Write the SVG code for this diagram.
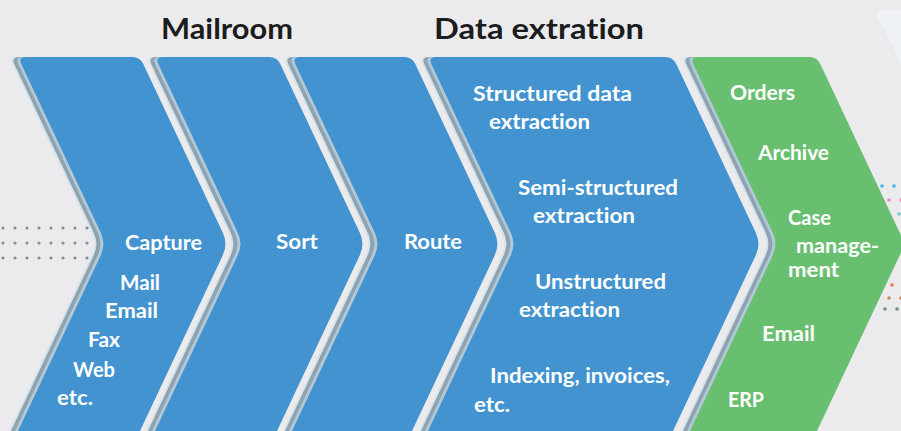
<svg xmlns="http://www.w3.org/2000/svg" xmlns:xlink="http://www.w3.org/1999/xlink" width="901" height="431" viewBox="0 0 901 431">
<defs>
<style>
.bg{fill:#ebebee}
.blue{fill:#4293cf}
.green{fill:#68bf70}
.s1{fill:#d5e3eb}
.s2{fill:#8fa2b0}
.s3{fill:#b3c9d7}
.t{font-family:Lato,"Liberation Sans",sans-serif;font-weight:700;font-size:21px;fill:#ffffff;font-variant-ligatures:none;font-feature-settings:"liga" 0,"clig" 0}
.h{font-family:Lato,"Liberation Sans",sans-serif;font-weight:700;font-size:29px;fill:#1c1c1c;font-variant-ligatures:none;font-feature-settings:"liga" 0,"clig" 0}
.dot{fill:#8c8c90}
</style>
<path id="c122" d="M3.4,64.2 Q0,57 8,57 L114,57 Q122,57 125.4,64.2 L204.9,233.1 Q210,244 204.9,254.9 L122,431 L0,431 L82.9,254.9 Q88,244 82.9,233.1 Z"/>
<path id="c120" d="M3.4,64.2 Q0,57 8,57 L112,57 Q120,57 123.4,64.2 L202.9,233.1 Q208,244 202.9,254.9 L120,431 L0,431 L82.9,254.9 Q88,244 82.9,233.1 Z"/>
<path id="c245" d="M3.4,64.2 Q0,57 8,57 L237,57 Q245,57 248.4,64.2 L327.9,233.1 Q333,244 327.9,254.9 L245,431 L0,431 L82.9,254.9 Q88,244 82.9,233.1 Z"/>
<path id="c127" d="M3.4,64.2 Q0,57 8,57 L119,57 Q127,57 130.4,64.2 L209.9,233.1 Q215,244 209.9,254.9 L127,431 L0,431 L82.9,254.9 Q88,244 82.9,233.1 Z"/>
</defs>
<rect class="bg" x="0" y="0" width="901" height="431"/>
<path d="M881,10 L901,10 L901,63 L877,16 Q876,10 881,10 Z" fill="#eff2f4"/>
<g id="dots-left">
<circle class="dot" cx="3" cy="228" r="1.6"/><circle class="dot" cx="15" cy="228" r="1.6"/><circle class="dot" cx="27" cy="228" r="1.6"/><circle class="dot" cx="39" cy="228" r="1.6"/><circle class="dot" cx="51" cy="228" r="1.6"/><circle class="dot" cx="63" cy="228" r="1.6"/><circle class="dot" cx="75" cy="228" r="1.6"/><circle class="dot" cx="87" cy="228" r="1.6"/><circle class="dot" cx="99" cy="228" r="1.6"/>
<circle class="dot" cx="3" cy="243" r="1.6"/><circle class="dot" cx="15" cy="243" r="1.6"/><circle class="dot" cx="27" cy="243" r="1.6"/><circle class="dot" cx="39" cy="243" r="1.6"/><circle class="dot" cx="51" cy="243" r="1.6"/><circle class="dot" cx="63" cy="243" r="1.6"/><circle class="dot" cx="75" cy="243" r="1.6"/><circle class="dot" cx="87" cy="243" r="1.6"/><circle class="dot" cx="99" cy="243" r="1.6"/>
<circle class="dot" cx="3" cy="258" r="1.6"/><circle class="dot" cx="15" cy="258" r="1.6"/><circle class="dot" cx="27" cy="258" r="1.6"/><circle class="dot" cx="39" cy="258" r="1.6"/><circle class="dot" cx="51" cy="258" r="1.6"/><circle class="dot" cx="63" cy="258" r="1.6"/><circle class="dot" cx="75" cy="258" r="1.6"/><circle class="dot" cx="87" cy="258" r="1.6"/><circle class="dot" cx="99" cy="258" r="1.6"/>
</g>
<g id="dots-right">
<circle cx="870" cy="186" r="1.8" fill="#3db8ea"/><circle cx="882" cy="186" r="1.8" fill="#3db8ea"/><circle cx="894" cy="186" r="1.8" fill="#3db8ea"/>
<circle cx="877" cy="200" r="1.8" fill="#ee88b8"/><circle cx="889" cy="200" r="1.8" fill="#ee88b8"/><circle cx="901" cy="200" r="1.8" fill="#ee88b8"/>
<circle cx="887" cy="214" r="1.8" fill="#7cc8d2"/><circle cx="899" cy="214" r="1.8" fill="#7cc8d2"/>
<circle cx="880" cy="285" r="1.8" fill="#ee7755"/><circle cx="892" cy="285" r="1.8" fill="#ee7755"/>
<circle cx="877" cy="298" r="1.8" fill="#d08850"/><circle cx="889" cy="298" r="1.8" fill="#d08850"/><circle cx="901" cy="298" r="1.8" fill="#d08850"/>
<circle cx="885" cy="309" r="1.8" fill="#6f8f7f"/><circle cx="897" cy="309" r="1.8" fill="#6f8f7f"/>
</g>
<g id="headings">
<text class="h" x="161" y="39" textLength="132" lengthAdjust="spacingAndGlyphs">Mailroom</text>
<text class="h" x="434" y="39" textLength="210" lengthAdjust="spacingAndGlyphs">Data extration</text>
</g>
<g id="connectors"></g>
<g id="capture">
<use xlink:href="#c122" class="s1" transform="translate(9,0)"/>
<use xlink:href="#c122" class="s2" transform="translate(11,0)"/>
<use xlink:href="#c122" class="s3" transform="translate(15,0)"/>
<use xlink:href="#c122" class="blue" transform="translate(18,0)"/>
<text class="t" x="125" y="250" textLength="77" lengthAdjust="spacingAndGlyphs">Capture</text>
<text class="t" x="120" y="290" textLength="40" lengthAdjust="spacingAndGlyphs">Mail</text>
<text class="t" x="105" y="318" textLength="53" lengthAdjust="spacingAndGlyphs">Email</text>
<text class="t" x="88" y="347" textLength="32" lengthAdjust="spacingAndGlyphs">Fax</text>
<text class="t" x="73" y="377" textLength="42" lengthAdjust="spacingAndGlyphs">Web</text>
<text class="t" x="57" y="405" textLength="36" lengthAdjust="spacingAndGlyphs">etc.</text>
</g>
<g id="sort">
<use xlink:href="#c122" class="s1" transform="translate(146,0)"/>
<use xlink:href="#c122" class="s2" transform="translate(148,0)"/>
<use xlink:href="#c122" class="s3" transform="translate(152,0)"/>
<use xlink:href="#c122" class="blue" transform="translate(155,0)"/>
<text class="t" x="276" y="249" textLength="42" lengthAdjust="spacingAndGlyphs">Sort</text>
</g>
<g id="route">
<use xlink:href="#c120" class="s1" transform="translate(283,0)"/>
<use xlink:href="#c120" class="s2" transform="translate(285,0)"/>
<use xlink:href="#c120" class="s3" transform="translate(289,0)"/>
<use xlink:href="#c120" class="blue" transform="translate(292,0)"/>
<text class="t" x="404" y="249" textLength="58" lengthAdjust="spacingAndGlyphs">Route</text>
</g>
<g id="extraction">
<use xlink:href="#c245" class="s1" transform="translate(419,0)"/>
<use xlink:href="#c245" class="s2" transform="translate(421,0)"/>
<use xlink:href="#c245" class="s3" transform="translate(425,0)"/>
<use xlink:href="#c245" class="blue" transform="translate(428,0)"/>
<text class="t" x="473" y="101" textLength="159" lengthAdjust="spacingAndGlyphs">Structured data</text>
<text class="t" x="489" y="129" textLength="101" lengthAdjust="spacingAndGlyphs">extraction</text>
<text class="t" x="518" y="195" textLength="160" lengthAdjust="spacingAndGlyphs">Semi-structured</text>
<text class="t" x="533" y="223" textLength="102" lengthAdjust="spacingAndGlyphs">extraction</text>
<text class="t" x="535" y="289" textLength="131" lengthAdjust="spacingAndGlyphs">Unstructured</text>
<text class="t" x="519" y="317" textLength="101" lengthAdjust="spacingAndGlyphs">extraction</text>
<text class="t" x="490" y="383" textLength="180" lengthAdjust="spacingAndGlyphs">Indexing, invoices,</text>
<text class="t" x="474" y="412" textLength="36" lengthAdjust="spacingAndGlyphs">etc.</text>
</g>
<g id="output">
<use xlink:href="#c127" class="s1" transform="translate(681,0)"/>
<use xlink:href="#c127" class="s2" transform="translate(683,0)"/>
<use xlink:href="#c127" class="s3" transform="translate(687,0)"/>
<use xlink:href="#c127" class="green" transform="translate(690,0)"/>
<text class="t" x="730" y="100" textLength="65" lengthAdjust="spacingAndGlyphs">Orders</text>
<text class="t" x="758" y="160" textLength="71" lengthAdjust="spacingAndGlyphs">Archive</text>
<text class="t" x="788" y="225" textLength="43" lengthAdjust="spacingAndGlyphs">Case</text>
<text class="t" x="796" y="253" textLength="83" lengthAdjust="spacingAndGlyphs">manage-</text>
<text class="t" x="788" y="277" textLength="51" lengthAdjust="spacingAndGlyphs">ment</text>
<text class="t" x="762" y="341" textLength="53" lengthAdjust="spacingAndGlyphs">Email</text>
<text class="t" x="728" y="407" textLength="36" lengthAdjust="spacingAndGlyphs">ERP</text>
</g>
</svg>
